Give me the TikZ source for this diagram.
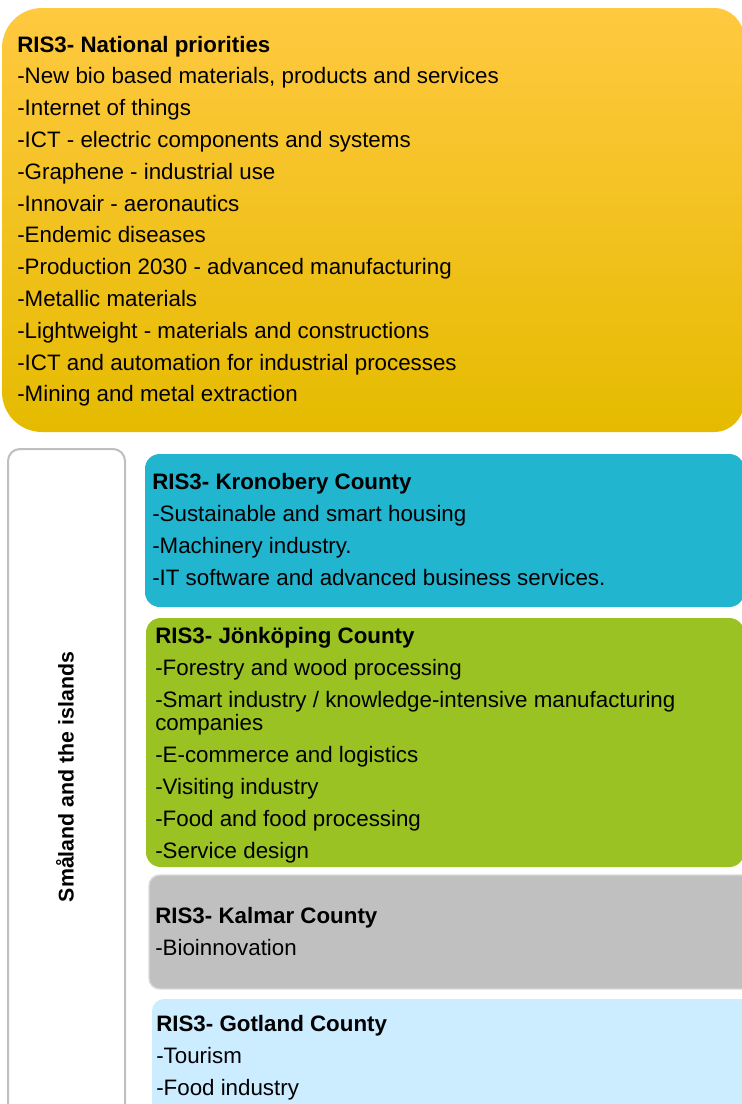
\documentclass[tikz,border=0pt]{standalone}
\usepackage{fontspec}
\setmainfont{Liberation Sans}
\definecolor{ytop}{RGB}{255,201,64}
\definecolor{ymid}{RGB}{255,204,0}
\definecolor{ybot}{RGB}{229,187,0}
\definecolor{kblue}{RGB}{34,181,208}
\definecolor{jgreen}{RGB}{153,194,34}
\definecolor{kgray}{RGB}{192,192,192}
\definecolor{kgrayline}{RGB}{218,218,218}
\definecolor{glblue}{RGB}{204,236,255}
\definecolor{lblline}{RGB}{191,191,191}
\begin{document}
\begin{tikzpicture}[x=0.75pt,y=-0.75pt,
  itemtxt/.style={anchor=base west,inner sep=0pt,font=\fontsize{16.75pt}{20pt}\selectfont},
  ttltxt/.style={anchor=base west,inner sep=0pt,font=\bfseries\fontsize{16.75pt}{20pt}\selectfont},
  lbltxt/.style={inner sep=0pt,rotate=90,font=\bfseries\fontsize{16pt}{20pt}\selectfont}]
\useasboundingbox (0,0) rectangle (742,1104);
\clip (0,0) rectangle (742,1104);
% national box
\shade[top color=ytop,middle color=ymid,bottom color=ybot]
  (372,8) [rounded corners=22.5pt] -- (744,8) -- (744,432) -- (372,432)
  [rounded corners=30pt] -- (2,432) -- (2,8) -- cycle;
\node[ttltxt] (nat0) at (17,52) {RIS3- National priorities};
\foreach \t [count=\i] in {%
  {-New bio based materials, products and services},
  {-Internet of things},
  {-ICT - electric components and systems},
  {-Graphene - industrial use},
  {-Innovair - aeronautics},
  {-Endemic diseases},
  {-Production 2030 - advanced manufacturing},
  {-Metallic materials},
  {-Lightweight - materials and constructions},
  {-ICT and automation for industrial processes},
  {-Mining and metal extraction}}
  \node[itemtxt] (nat\i) at (17,52+31.8*\i) {\t};
% label box
\draw[lblline,line width=1.5pt,fill=white,rounded corners=9pt] (8,449) rectangle (125,1130);
\node[lbltxt] (sml) at (65,777) {Småland and the islands};
% Kronobery
\fill[kblue,rounded corners=11pt] (145,454) rectangle (744,607);
\node[ttltxt] (kro0) at (152,489) {RIS3- Kronobery County};
\foreach \t [count=\i] in {%
  {-Sustainable and smart housing},
  {-Machinery industry.},
  {-IT software and advanced business services.}}
  \node[itemtxt] (kro\i) at (152,489+32*\i) {\t};
% Jonkoping
\fill[jgreen,rounded corners=11pt] (146,618) rectangle (744,867);
\node[ttltxt] (jon0) at (155,643) {RIS3- Jönköping County};
\node[itemtxt] (jon1) at (155,675) {-Forestry and wood processing};
\node[itemtxt] (jon2) at (155,707) {-Smart industry / knowledge-intensive manufacturing};
\node[itemtxt] (jon2b) at (155,730) {companies};
\node[itemtxt] (jon3) at (155,762) {-E-commerce and logistics};
\node[itemtxt] (jon4) at (155,794) {-Visiting industry};
\node[itemtxt] (jon5) at (155,826) {-Food and food processing};
\node[itemtxt] (jon6) at (155,858) {-Service design};
% Kalmar
\draw[kgrayline,fill=kgray,line width=1pt,rounded corners=8pt] (149,875) rectangle (770,989);
\node[ttltxt] (kal0) at (155,923) {RIS3- Kalmar County};
\node[itemtxt] (kal1) at (155,955) {-Bioinnovation};
% Gotland
\fill[glblue,rounded corners=9pt] (152,999) rectangle (770,1130);
\node[ttltxt] (got0) at (156,1031) {RIS3- Gotland County};
\node[itemtxt] (got1) at (156,1063) {-Tourism};
\node[itemtxt] (got2) at (156,1095) {-Food industry};
\end{tikzpicture}
\end{document}
